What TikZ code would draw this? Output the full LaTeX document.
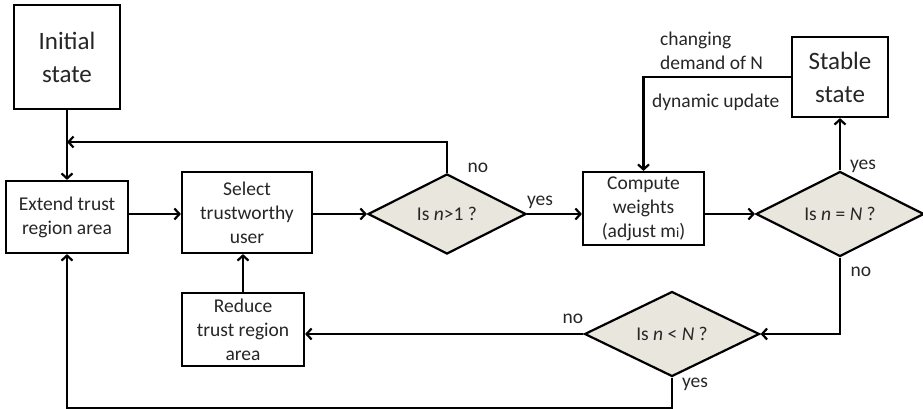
\documentclass[tikz,border=0pt]{standalone}
\usepackage{fontspec}
\setmainfont{Carlito}
\usepackage{tikz}
\usetikzlibrary{positioning, shapes.geometric, arrows.meta, calc}
\definecolor{qfill}{RGB}{233,230,221}

\begin{document}
\begin{tikzpicture}[x=1pt, y=-1pt, line width=2.2pt,
  every node/.style={font=\fontsize{19.5}{24}\selectfont, text=black!85},
  box/.style={draw, fill=white, align=center, inner sep=0pt},
  decide/.style={draw, diamond, fill=qfill, inner sep=0pt},
  arr/.style={-{Straight Barb[length=5pt, width=11pt]}},
  lbl/.style={inner sep=0pt}]
\useasboundingbox (0,0) rectangle (923,409);
% Boxes
\node[box, minimum width=106, minimum height=104, font=\fontsize{25}{33}\selectfont] (initial) at (67,57) {Initial\\state};
\node[box, minimum width=122, minimum height=72] (extend) at (67,217) {Extend trust\\region area};
\node[box, minimum width=130, minimum height=81] (select) at (247,212.5) {Select\\trustworthy\\user};
\node[box, minimum width=121, minimum height=73] (compute) at (643.5,208.5) {Compute\\weights\\(adjust m{\fontsize{14}{14}\selectfont i})};
\node[box, minimum width=96, minimum height=80, font=\fontsize{25}{33}\selectfont] (stable) at (840,77) {Stable\\state};
\node[box, minimum width=122, minimum height=73] (reduce) at (243,329.5) {Reduce\\trust region\\area};
% Decisions
\node[decide, minimum width=158, minimum height=80] (d1) at (447,214) {Is \textit{n}>1 ?};
\node[decide, minimum width=168, minimum height=80] (d2) at (840,214) {Is \textit{n} = \textit{N} ?};
\node[decide, minimum width=175, minimum height=80] (d3) at (672,334) {Is \textit{n} < \textit{N} ?};
% Junction on the left line
\coordinate (back) at ($(initial.south)!0.5!(extend.north) + (0,-3)$);
% Connectors
\draw[arr] (initial) -- (extend);
\draw[arr] (extend.east |- d1) -- (select.west |- d1);
\draw[arr] (select.east |- d1) -- (d1.west);
\draw[arr] (d1.east) -- (compute.west |- d1);
\draw[arr] (compute.east |- d2) -- (d2.west);
\draw[arr] (d1.north) |- (back);
\draw[arr] (d2.north) -- (stable.south);
\draw[arr] (stable.west) -| (compute.north);
\draw[arr] (d2.south) |- (d3.east);
\draw[arr] (d3.west) -- (d3.west -| reduce.east);
\draw[arr] (reduce.north) -- (reduce.north |- select.south);
\draw[arr] (d3.south) -- ++(0,31) -| (extend.south);
% Labels
\node[lbl] (no1) at (478,168) {no};
\node[lbl] (yes1) at (540,202) {yes};
\node[lbl] (yes2) at (863,166) {yes};
\node[lbl] (no2) at (861,272) {no};
\node[lbl] (no3) at (573,319) {no};
\node[lbl] (yes3) at (695,384) {yes};
\node[lbl, anchor=west, align=left] (change) at (659,51) {changing\\demand of N};
\node[lbl, anchor=west] (update) at (651,102) {dynamic update};
\end{tikzpicture}
\end{document}
